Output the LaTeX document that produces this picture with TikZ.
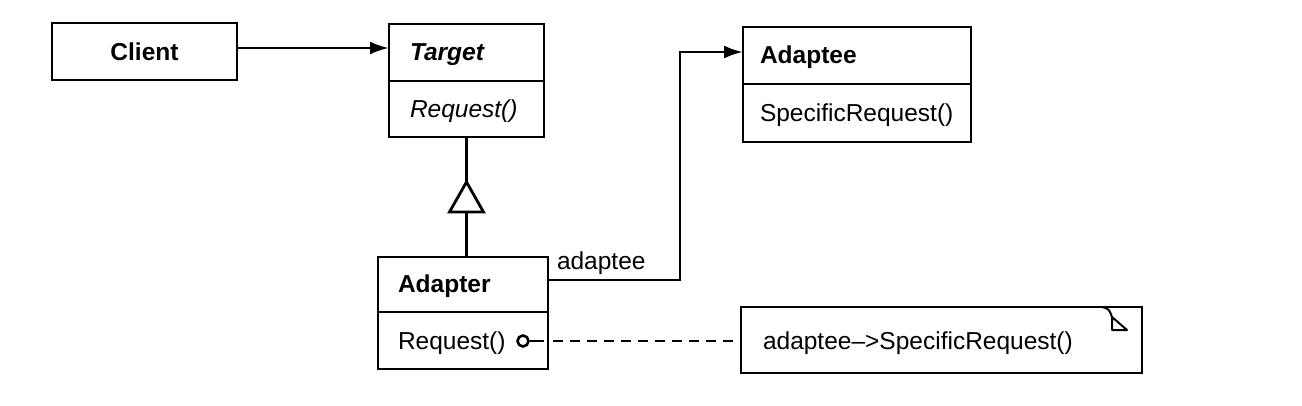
\documentclass[tikz,border=0pt]{standalone}
\usepackage{fontspec}
\setmainfont{Liberation Sans}
\usetikzlibrary{arrows.meta,calc}
\begin{document}
\begin{tikzpicture}[x=1pt,y=-1pt,
  line/.style={line width=2.8pt},
  cls/.style={draw, line width=2.8pt, inner sep=0pt, outer sep=0pt},
  txt/.style={anchor=base west, inner sep=0pt, outer sep=0pt},
  arr/.style={line, -{Latex[length=19pt,width=13pt]}},
  dsh/.style={line width=2.6pt, dash pattern=on 10pt off 7pt},
  every node/.append style={font=\fontsize{24.5}{29}\selectfont}]
\useasboundingbox (0,0) rectangle (1302,406);
% Client
\node[cls, minimum width=185pt, minimum height=57pt] (client) at (144.5,51.5) {\bfseries Client};
% Target
\node[cls, minimum width=155pt, minimum height=113pt] (target) at (466.5,80.5) {};
\draw[line] (389,81) -- (544,81);
\node[txt] (targetname) at (410,61) {\bfseries\itshape Target};
\node[txt] (targetop) at (410,118) {\itshape Request()};
% Adaptee
\node[cls, minimum width=228pt, minimum height=115pt] (adaptee) at (857,84.5) {};
\draw[line] (743,84) -- (971,84);
\node[txt] (adapteename) at (760,64) {\bfseries Adaptee};
\node[txt] (adapteeop) at (760,122) {SpecificRequest()};
% Adapter
\node[cls, minimum width=170pt, minimum height=112pt] (adapter) at (463,313) {};
\draw[line] (378,312) -- (548,312);
\node[txt] (adaptername) at (398,293) {\bfseries Adapter};
\node[txt] (adapterop) at (398,349) {Request()};
% Note
\node[cls, minimum width=401pt, minimum height=66pt] (note) at (941.5,340) {};
\node[txt] (notetext) at (763,349) {adaptee--{>}SpecificRequest()};
\draw[line width=2pt] ([xshift=-40pt]note.north east) .. controls ([xshift=-33pt,yshift=-2pt]note.north east) .. ([xshift=-30pt,yshift=-10pt]note.north east);
\draw[line width=2pt, fill=white, line join=round] ([xshift=-30pt,yshift=-10pt]note.north east) -- ([xshift=-30pt,yshift=-23pt]note.north east) -- ([xshift=-15pt,yshift=-23pt]note.north east) -- cycle;
% Client -> Target
\draw[arr] ([yshift=3.5pt]client.east) -- ([yshift=3.5pt]client.east -| target.west);
% Inheritance
\coordinate (apex) at (466.5,182);
\coordinate (base) at (466.5,212);
\draw[line] (target.south) -- (apex);
\draw[line, fill=white, line join=miter] (apex) -- ($(base)+(-17,0)$) -- ($(base)+(17,0)$) -- cycle;
\draw[line] (base) -- (base |- adapter.north);
% Association
\coordinate (bend) at (680,52);
\draw[arr] ([yshift=33pt]adapter.east) -| (bend) -- (adaptee.west |- bend);
\node[txt] (assoclabel) at (557,270) {adaptee};
% Note attachment
\node[draw, circle, line width=2.6pt, minimum size=11pt, inner sep=0pt] (pin) at (523,341) {};
\draw[line width=2.6pt] (pin.east) -- ++(14,0);
\draw[dsh] ([xshift=5pt]pin -| adapter.east) -- (note.west |- pin);
\end{tikzpicture}
\end{document}
